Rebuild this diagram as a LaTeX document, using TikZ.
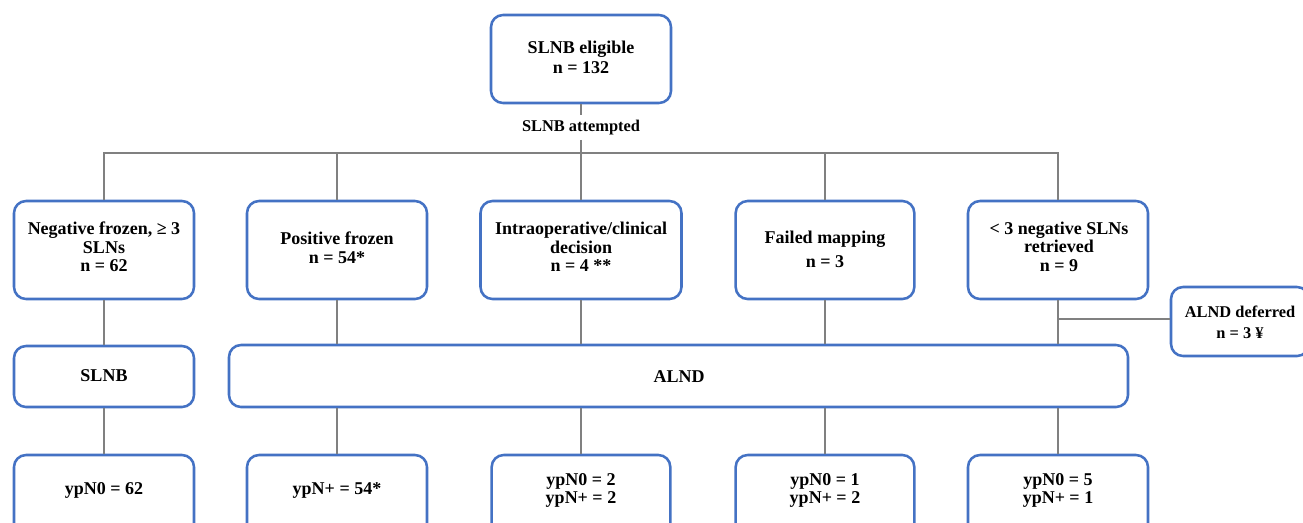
\documentclass[tikz,border=0pt]{standalone}
\usepackage{fontspec}
\setmainfont{Liberation Serif}
\definecolor{boxblue}{HTML}{4472C4}
\definecolor{linegray}{HTML}{808080}
\newcommand\mynolsl{\lineskiplimit=-50pt\relax}
\begin{document}
\begin{tikzpicture}[x=0.75pt,y=-0.75pt,
  box/.style={draw=boxblue, line width=1.9pt, rounded corners=9pt, fill=white, inner sep=0pt},
  txt/.style={font={\fontsize{13.5pt}{#1}\selectfont\bfseries\mynolsl}, align=center, inner sep=0pt},
  txt/.default=12.4pt,
  stxt/.style={font={\fontsize{12.3pt}{#1}\selectfont\bfseries\mynolsl}, align=center, inner sep=0pt},
  stxt/.default=15.75pt,
  conn/.style={draw=linegray, line width=1.9pt}]

\useasboundingbox (0,0) rectangle (1303,522);
\clip (0,0) rectangle (1303,522);
\fill[white] (0,0) rectangle (1303,522);

% boxes
\node[box, minimum width=135pt, minimum height=66pt] (top) at (581,59) {};
\node[box, minimum width=135pt, minimum height=73.5pt] (b1) at (104,250) {};
\node[box, minimum width=135pt, minimum height=73.5pt] (b2) at (337,250) {};
\node[box, minimum width=150.75pt, minimum height=73.5pt] (b3) at (581,250) {};
\node[box, minimum width=134pt, minimum height=73.5pt] (b4) at (825,250) {};
\node[box, minimum width=135pt, minimum height=73.5pt] (b5) at (1058,250) {};
\node[box, minimum width=103.5pt, minimum height=51.75pt] (def) at (1240,321.5) {};
\node[box, minimum width=135pt, minimum height=45.75pt] (slnb) at (104,376.5) {};
\node[box, minimum width=674.25pt, minimum height=46.5pt] (alnd) at (678.5,376) {};
\node[box, minimum width=135pt, minimum height=73.5pt] (r1) at (104,504) {};
\node[box, minimum width=135pt, minimum height=73.5pt] (r2) at (337,504) {};
\node[box, minimum width=134pt, minimum height=73.5pt] (r3) at (581,504) {};
\node[box, minimum width=134pt, minimum height=73.5pt] (r4) at (825,504) {};
\node[box, minimum width=135pt, minimum height=73.5pt] (r5) at (1058,504) {};

% label on first connector
\node[font=\fontsize{12.3pt}{14pt}\selectfont\bfseries, fill=white, inner xsep=2pt, inner ysep=3.5pt,
      text height=8.6pt, text depth=2.6pt] (att) at (581,127.5) {SLNB attempted};

% connector coordinates
\coordinate (h1) at (104,153);
\coordinate (h2) at (337,153);
\coordinate (hc) at (581,153);
\coordinate (h4) at (825,153);
\coordinate (h5) at (1058,153);
\coordinate (dj) at (1058,319);

% connectors
\draw[conn] (top.south) -- (att.north);
\draw[conn] (att.south) -- (hc);
\draw[conn] (b1.north) -- (h1) -- (h5) -- (b5.north);
\draw[conn] (h2) -- (b2.north);
\draw[conn] (hc) -- (b3.north);
\draw[conn] (h4) -- (b4.north);

\draw[conn] (b1.south) -- (slnb.north);
\draw[conn] (b2.south) -- (b2.south |- alnd.north);
\draw[conn] (b3.south) -- (b3.south |- alnd.north);
\draw[conn] (b4.south) -- (b4.south |- alnd.north);
\draw[conn] (b5.south) -- (b5.south |- alnd.north);
\draw[conn] (dj) -- (dj -| def.west);

\draw[conn] (slnb.south) -- (r1.north);
\draw[conn] (alnd.south -| r2.north) -- (r2.north);
\draw[conn] (alnd.south -| r3.north) -- (r3.north);
\draw[conn] (alnd.south -| r4.north) -- (r4.north);
\draw[conn] (alnd.south -| r5.north) -- (r5.north);

% texts
\node[txt=15pt] (t0) at (581,57) {SLNB eligible\\n = 132};
\node[txt] (t1) at (104,247) {Negative frozen, ≥ 3\\[1.5pt]SLNs\\[1.5pt]n = 62};
\node[txt] (t2) at (337,248) {Positive frozen\\[1.5pt]n = 54*};
\node[txt] (t3) at (581,247) {Intraoperative/clinical\\[1.5pt]decision\\[1.5pt]n = 4 **};
\node[txt=18.5pt] (t4) at (825,249.5) {Failed mapping\\n = 3};
\node[txt] (t5) at (1059,246.5) {< 3 negative SLNs\\[1.5pt]retrieved\\[1.5pt]n = 9};
\node[stxt] (t6) at (1240,322) {ALND deferred\\n = 3 ¥};
\node[txt] (t7) at (104,375.5) {SLNB};
\node[txt] (t8) at (679,377) {ALND};
\node[txt] (t9) at (104,490) {ypN0 = 62};
\node[txt] (t10) at (337,490) {ypN+ = 54*};
\node[txt=12pt] (t11) at (581,490) {ypN0 = 2\\[1.5pt]ypN+ = 2};
\node[txt=12pt] (t12) at (825,490) {ypN0 = 1\\[1.5pt]ypN+ = 2};
\node[txt=12pt] (t13) at (1058,490) {ypN0 = 5\\[1.5pt]ypN+ = 1};
\end{tikzpicture}
\end{document}
